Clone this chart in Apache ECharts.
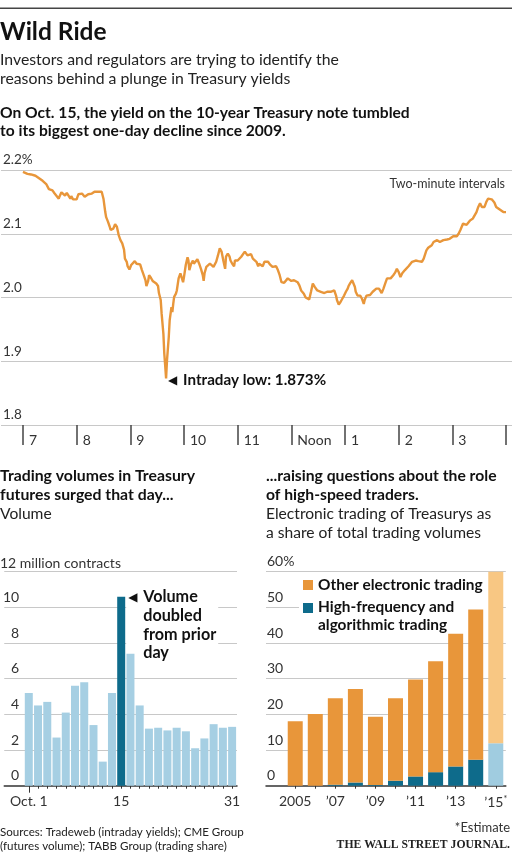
<!DOCTYPE html>
<html><head><meta charset="utf-8">
<script src="https://cdn.jsdelivr.net/npm/echarts@6/dist/echarts.min.js"></script>
<style>html,body{margin:0;padding:0;background:#fff}#c{width:512px;height:853px}</style>
</head><body><div id="c"></div>
<script>
// ---- 10-year Treasury yield, Oct. 15 (minutes after 7:00 a.m., yield %) ----
const lineMinutes = [0,2,5,9,11,14,18,22,26,27,29,31,33,35,37,40,41,43,45,47,49,51,53,54,56,58,60,62,64,66,67,69,71,73,75,77,79,80,82,85,88,89,90,92,93,95,97,98,100,101,103,105,107,109,111,113,114,116,117,119,121,123,125,127,129,131,133,135,137,138,140,141,143,145,147,149,151,152,154,155,157,158,159,160,161,163,164,166,167,168,169,171,172,174,176,177,179,180,182,184,185,186,188,190,191,193,195,197,199,201,202,203,205,207,209,211,213,214,216,218,220,222,223,224,226,227,229,231,232,234,236,237,239,240,242,244,246,248,250,251,253,255,257,259,261,263,264,266,268,270,272,274,276,277,279,281,283,285,287,289,290,292,294,296,298,300,301,303,305,307,309,311,314,316,318,320,322,324,326,327,329,331,333,335,337,339,340,342,344,346,348,350,351,353,355,357,359,361,363,364,366,368,369,371,372,374,376,377,379,381,382,384,386,388,390,391,393,395,398,400,401,403,405,407,409,411,413,414,416,418,420,422,424,426,427,429,431,433,435,437,439,440,442,444,446,448,450,451,453,455,457,459,461,463,464,466,468,470,472,474,476,477,479,481,483,485,487,489,490,492,494,496,498,500,501,503,505,507,509,511,513,514,516,518,520,522,524,526,527,529,531,533,535,537,539,540];
const lineYields = [2.197,2.195,2.194,2.193,2.193,2.191,2.187,2.183,2.178,2.176,2.170,2.171,2.168,2.164,2.162,2.155,2.159,2.165,2.162,2.160,2.164,2.162,2.155,2.159,2.154,2.157,2.154,2.162,2.161,2.163,2.162,2.158,2.161,2.162,2.165,2.163,2.166,2.166,2.167,2.166,2.166,2.165,2.155,2.134,2.126,2.119,2.111,2.106,2.109,2.108,2.115,2.111,2.098,2.090,2.085,2.075,2.061,2.056,2.049,2.044,2.051,2.054,2.057,2.053,2.051,2.052,2.043,2.035,2.027,2.018,2.026,2.035,2.031,2.026,2.023,2.022,2.018,2.007,1.996,1.975,1.943,1.912,1.893,1.873,1.901,1.938,1.964,1.985,1.977,1.990,2.001,2.006,2.011,2.030,2.038,2.035,2.024,2.032,2.051,2.063,2.058,2.043,2.053,2.058,2.053,2.056,2.060,2.053,2.045,2.035,2.026,2.038,2.048,2.045,2.053,2.056,2.048,2.051,2.056,2.066,2.077,2.072,2.074,2.058,2.045,2.064,2.069,2.064,2.058,2.053,2.049,2.058,2.061,2.058,2.060,2.064,2.066,2.072,2.075,2.066,2.064,2.068,2.061,2.064,2.056,2.049,2.053,2.051,2.049,2.056,2.053,2.056,2.052,2.051,2.048,2.045,2.049,2.043,2.035,2.024,2.024,2.023,2.026,2.030,2.032,2.026,2.023,2.027,2.030,2.024,2.019,2.011,2.006,2.000,1.998,1.997,2.009,2.022,2.017,2.014,2.011,2.009,2.009,2.011,2.007,2.010,2.009,2.012,2.009,2.012,2.011,2.003,1.996,1.989,1.993,1.998,2.003,2.009,2.014,2.018,2.023,2.027,2.026,2.017,2.009,2.003,2.001,2.003,1.998,1.990,1.996,2.003,2.001,2.004,2.002,2.009,2.011,2.014,2.014,2.011,2.007,2.014,2.022,2.030,2.031,2.030,2.033,2.035,2.039,2.045,2.040,2.032,2.038,2.040,2.043,2.045,2.049,2.052,2.056,2.057,2.058,2.056,2.057,2.056,2.056,2.061,2.064,2.074,2.078,2.078,2.082,2.087,2.090,2.090,2.089,2.087,2.086,2.090,2.090,2.091,2.090,2.092,2.094,2.096,2.098,2.096,2.100,2.106,2.105,2.116,2.119,2.114,2.114,2.121,2.119,2.124,2.127,2.134,2.142,2.148,2.142,2.140,2.142,2.150,2.155,2.158,2.154,2.153,2.149,2.142,2.140,2.138,2.137,2.134,2.136,2.134];
const hourTicks = [0,60,120,180,240,300,360,420,480,540];
const hourLabels = ['7','8','9','10','11','Noon','1','2','3'];
const intradayLow = [160, 1.873];

// ---- Treasury futures volume, October (million contracts) ----
const volDays = ['Oct. 1','2','3','6','7','8','9','10','13','14','15','16','17','20','21','22','23','24','27','28','29','30','31'];
const volValues = [5.2,4.5,4.7,2.7,4.1,5.6,5.8,3.4,1.35,5.2,10.6,7.4,4.5,3.2,3.25,3.1,3.25,3.05,2.1,2.65,3.45,3.25,3.3];
const volLabelDays = ['Oct. 1','15','31'];

// ---- Electronic trading share (%) ----
const years = ['2005','2006','2007','2008','2009','2010','2011','2012','2013','2014','2015'];
const hftShare = [0,0,0.3,0.9,0.2,1.4,2.6,3.8,5.4,7.3,11.9];
const otherShare = [18.1,20.1,24.2,26.2,19.1,23.1,27.2,31.1,37.2,42.1,48.1];

const F = 'Lato, "DejaVu Sans", sans-serif';
const ORANGE = '#e8963a', ORANGE_L = '#f8c783';
const BLUE = '#0e6b8b', BLUE_L = '#a6cfe3', BLUE_E = '#a0cce0';
const GRID = '#c8c8c8';

const chart = echarts.init(document.getElementById('c'), null, {renderer:'canvas'});

const yLbl = (extra) => Object.assign({inside:true, fontFamily:F, fontSize:14, color:'#333', verticalAlign:'bottom', padding:[0,0,3,0]}, extra);
const last = years.length - 1;

const option = {
  animation:false,
  backgroundColor:'#fff',
  grid:[
    {left:0, top:170, width:512, height:255},
    {left:0, top:571.7, width:237, height:214},
    {left:266, top:571.7, width:239.8, height:214},
    {left:285.2, top:571.7, width:220.6, height:214}
  ],
  xAxis:[
    {gridIndex:0, type:'value', min:-24.55, max:546.7, axisLine:{show:false}, splitLine:{show:false},
     axisTick:{show:true, customValues:hourTicks, length:20, lineStyle:{color:'#444', width:1.5}},
     axisLabel:{customValues:hourTicks.slice(0,9), formatter:v=>hourLabels[hourTicks.indexOf(v)], align:'left', padding:[0,0,0,6], margin:8, fontFamily:F, fontSize:14, color:'#333'}},
    {gridIndex:1, type:'value', min:-2.657, max:22.53, axisLine:{show:true, onZero:false, lineStyle:{color:'#333', width:1.5}}, splitLine:{show:false},
     axisTick:{show:true, customValues:volDays.map((d,i)=>i), length:3, lineStyle:{color:'#333', width:1}},
     axisLabel:{customValues:volLabelDays.map(d=>volDays.indexOf(d)), formatter:v=>volDays[v], margin:9, fontFamily:F, fontSize:14, color:'#333'}},
    {gridIndex:1, type:'value', position:'bottom', offset:0, min:-2.657, max:22.53, axisLine:{show:false}, splitLine:{show:false},
     axisTick:{show:true, customValues:[0], length:7, lineStyle:{color:'#333', width:1}}, axisLabel:{show:false}},
    {gridIndex:2, type:'value', min:0, max:1, axisLine:{show:true, onZero:false, lineStyle:{color:'#333', width:1.5}}, splitLine:{show:false},
     axisTick:{show:false}, axisLabel:{show:false}},
    {gridIndex:3, type:'category', data:years, boundaryGap:true, axisLine:{show:false}, splitLine:{show:false},
     axisTick:{show:true, alignWithLabel:true, interval:0, length:3, lineStyle:{color:'#333', width:1}},
     axisLabel:{interval:1, margin:9, fontFamily:F, fontSize:14, color:'#333',
       formatter:(v,i)=>{ if(i===0) return v; if(i===last) return '\u2019'+v.slice(2)+'{a|*}'; return '\u2019'+v.slice(2);},
       rich:{a:{fontSize:9, verticalAlign:'top', fontFamily:F, color:'#333', padding:[0,0,6,0]}}}}
  ],
  yAxis:[
    {gridIndex:0, type:'value', min:1.8, max:2.2, interval:0.1, axisLine:{show:false}, axisTick:{show:false},
     splitLine:{show:true, showMinLine:true, showMaxLine:true, lineStyle:{color:GRID, width:1}},
     axisLabel:yLbl({margin:2, align:'left', fontSize:13.5, formatter:v=>v>2.19?v.toFixed(1)+'%':v.toFixed(1)})},
    {gridIndex:1, type:'value', min:0, max:12, interval:2, axisLine:{show:false}, axisTick:{show:false},
     splitLine:{show:true, showMinLine:false, showMaxLine:true, lineStyle:{color:GRID, width:1}},
     axisLabel:yLbl({margin:15, align:'right', formatter:v=>v===12?'':String(v)})},
    {gridIndex:2, type:'value', min:0, max:60, interval:10, axisLine:{show:false}, axisTick:{show:false},
     splitLine:{show:true, showMinLine:false, showMaxLine:true, lineStyle:{color:GRID, width:1}},
     axisLabel:yLbl({margin:1, align:'left', formatter:v=>v===60?'60%':String(v)})},
    {gridIndex:3, type:'value', min:0, max:60, show:false, splitLine:{show:false}}
  ],
  series:[
    {type:'line', xAxisIndex:0, yAxisIndex:0, data:lineMinutes.map((m,i)=>[m,lineYields[i]]), showSymbol:false, symbol:'none',
     lineStyle:{color:ORANGE, width:2.4}, z:3},
    {type:'bar', xAxisIndex:1, yAxisIndex:1, barWidth:8, z:2,
     data:volValues.map((v,i)=>({value:[i,v], itemStyle:{color: volDays[i]==='15'?BLUE:BLUE_L}}))},
    {type:'bar', xAxisIndex:4, yAxisIndex:3, barWidth:15, stack:'share', z:2,
     data:hftShare.map((v,i)=>({value:v, itemStyle:{color: i===last?BLUE_E:BLUE}}))},
    {type:'bar', xAxisIndex:4, yAxisIndex:3, barWidth:15, stack:'share', z:2,
     data:otherShare.map((v,i)=>({value:v, itemStyle:{color: i===last?ORANGE_L:ORANGE}}))}
  ]
};
chart.setOption(option);

function T(text, x, y, size, weight, align, color, family, z){
  return {type:'text', z:z||10, silent:true, style:{text:text, x:x, y:y, fontSize:size, fontWeight:weight||'normal', fontFamily:family||F,
    fill:color||'#222', textAlign:align||'left', align:align||'left', textVerticalAlign:'middle', verticalAlign:'middle'}};
}
const lowPx = chart.convertToPixel({xAxisIndex:0, yAxisIndex:0}, intradayLow);
const i15 = volDays.indexOf('15');
const volPx = chart.convertToPixel({xAxisIndex:1, yAxisIndex:1}, [i15, volValues[i15]]);

const g = [
  {type:'rect', z:10, silent:true, shape:{x:0, y:7.5, width:512, height:1.6}, style:{fill:'#444'}},
  T('Wild Ride', 0, 32, 24.5, 'bold', 'left', '#111'),
  T('Investors and regulators are trying to identify the', 0, 60, 15.8, 'normal', 'left', '#222'),
  T('reasons behind a plunge in Treasury yields', 0, 79, 15.8, 'normal', 'left', '#222'),
  T('On Oct. 15, the yield on the 10-year Treasury note tumbled', 0, 113, 15.6, 'bold', 'left', '#111'),
  T('to its biggest one-day decline since 2009.', 0, 131, 15.6, 'bold', 'left', '#111'),
  T('Two-minute intervals', 505, 184, 12.5, 'normal', 'right', '#333'),
  T('\u25C0', lowPx[0]+2, lowPx[1]+2, 12, 'normal', 'left', '#111', '"DejaVu Sans", sans-serif'),
  T('Intraday low: 1.873%', lowPx[0]+17, lowPx[1]+2, 15.2, 'bold', 'left', '#111'),
  T('Trading volumes in Treasury', 0, 476, 15.8, 'bold', 'left', '#111'),
  T('futures surged that day...', 0, 495, 15.8, 'bold', 'left', '#111'),
  T('Volume', 0, 514, 15.6, 'normal', 'left', '#222'),
  T('...raising questions about the role', 266, 476, 15.7, 'bold', 'left', '#111'),
  T('of high-speed traders.', 266, 495, 15.7, 'bold', 'left', '#111'),
  T('Electronic trading of Treasurys as', 266, 514, 15.6, 'normal', 'left', '#222'),
  T('a share of total trading volumes', 266, 533, 15.6, 'normal', 'left', '#222'),
  T('12 million contracts', 0, 563, 14, 'normal', 'left', '#333'),
  {type:'rect', z:1, silent:true, shape:{x:volPx[0]+5, y:volPx[1]-9, width:92, height:74}, style:{fill:'#fff'}},
  T('\u25C0', volPx[0]+7, volPx[1]+1, 12, 'normal', 'left', '#111', '"DejaVu Sans", sans-serif'),
  T('Volume', volPx[0]+22, volPx[1], 16.2, 'bold', 'left', '#111'),
  T('doubled', volPx[0]+22, volPx[1]+19, 16.2, 'bold', 'left', '#111'),
  T('from prior', volPx[0]+22, volPx[1]+38, 16.2, 'bold', 'left', '#111'),
  T('day', volPx[0]+22, volPx[1]+56, 16.2, 'bold', 'left', '#111'),
  {type:'rect', z:1, silent:true, shape:{x:299, y:575, width:190, height:58}, style:{fill:'#fff'}},
  {type:'rect', z:10, silent:true, shape:{x:303, y:580, width:10, height:10}, style:{fill:ORANGE}},
  T('Other electronic trading', 318, 585, 15.4, 'bold', 'left', '#111'),
  {type:'rect', z:10, silent:true, shape:{x:303, y:603, width:10, height:10}, style:{fill:BLUE}},
  T('High-frequency and', 318, 607, 15.4, 'bold', 'left', '#111'),
  T('algorithmic trading', 318, 625, 15.4, 'bold', 'left', '#111'),
  T('Sources: Tradeweb (intraday yields); CME Group', 0, 832, 11.6, 'normal', 'left', '#222'),
  T('(futures volume); TABB Group (trading share)', 0, 846, 11.6, 'normal', 'left', '#222'),
  T('*Estimate', 510, 828, 13, 'normal', 'right', '#333'),
  T('THE WALL STREET JOURNAL.', 510, 845, 11.7, 'bold', 'right', '#222', '"Liberation Serif", "DejaVu Serif", serif')
];
chart.setOption({graphic:{elements:g}});
</script>
</body></html>
